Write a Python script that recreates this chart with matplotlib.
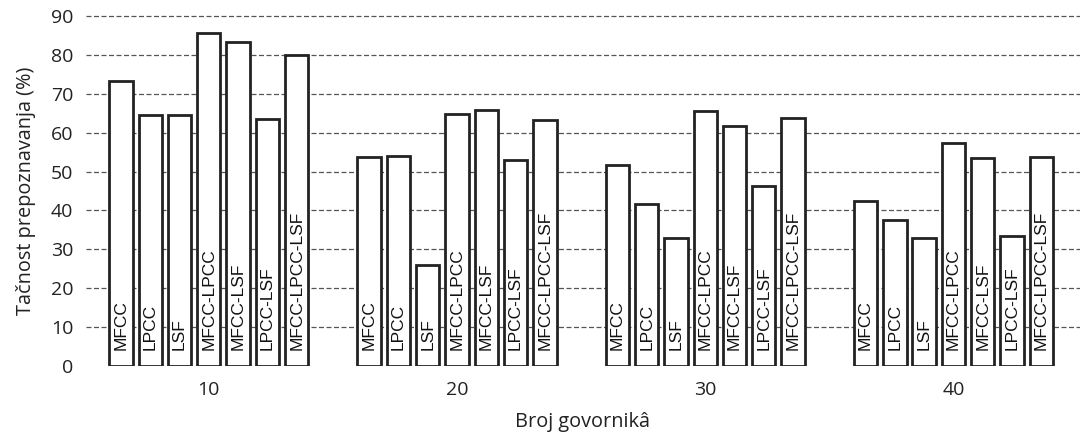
import numpy as np
import matplotlib
matplotlib.use('Agg')
import matplotlib.pyplot as plt

speakers = ['10', '20', '30', '40']
features = ['MFCC', 'LPCC', 'LSF', 'MFCC-LPCC', 'MFCC-LSF', 'LPCC-LSF', 'MFCC-LPCC-LSF']

# accuracy (%) per feature set, one list per speaker count
acc_10 = [73.4, 64.6, 64.6, 85.6, 83.4, 63.5, 80.1]
acc_20 = [53.7, 54.0, 25.9, 64.8, 65.9, 53.0, 63.2]
acc_30 = [51.8, 41.7, 32.9, 65.5, 61.6, 46.3, 63.7]
acc_40 = [42.5, 37.6, 32.9, 57.4, 53.4, 33.5, 53.8]
values = [acc_10, acc_20, acc_30, acc_40]

plt.rcParams['font.family'] = ['Open Sans', 'DejaVu Sans']

fig = plt.figure(figsize=(10.8, 4.34), dpi=100)
ax = fig.add_axes([0.0796, 0.157, 0.9204, 0.806])

pitch = 0.118
width = 0.094
for g, vals in enumerate(values):
    for i, v in enumerate(vals):
        x = g + (i - 3) * pitch
        ax.bar(x, v, width=width, facecolor='white', edgecolor='#222222',
               linewidth=2.0, zorder=3)
        ax.text(x, 4.2, features[i], rotation=90, ha='center', va='bottom',
                fontsize=12.5, family='Liberation Sans', color='#111111', zorder=4)

ax.set_xlim(-0.495, 3.51)
ax.set_ylim(0, 90)
ax.set_yticks(np.arange(0, 91, 10))
ax.set_xticks(range(len(speakers)))
ax.set_xticklabels(speakers)
ax.tick_params(axis='both', length=0, labelsize=14, colors='#222222')
ax.tick_params(axis='y', pad=9)
ax.tick_params(axis='x', pad=11)
ax.yaxis.grid(True, linestyle=(0, (4, 2)), color='#555555', linewidth=0.9, clip_on=False)
ax.yaxis.get_gridlines()[0].set_visible(False)
ax.set_axisbelow(True)
for s in ax.spines.values():
    s.set_visible(False)

ax.set_ylabel('Tačnost prepoznavanja (%)', fontsize=14.3, color='#222222', labelpad=11)
ax.set_xlabel('Broj govornikâ', fontsize=14.3, color='#222222', labelpad=9)

fig.savefig('out.png', dpi=100)
